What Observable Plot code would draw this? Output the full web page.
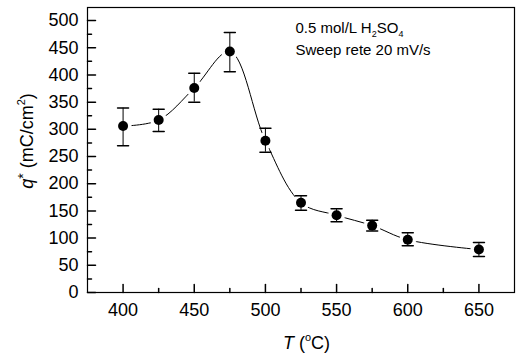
<!DOCTYPE html>
<html>
<head>
<meta charset="utf-8">
<script src="https://cdn.jsdelivr.net/npm/d3@7"></script>
<script src="https://cdn.jsdelivr.net/npm/@observablehq/plot@0.6"></script>
<style>
  html, body { margin: 0; padding: 0; background: #fff; }
  svg { font-family: "Liberation Sans", Arial, sans-serif; }
</style>
</head>
<body>
<div id="chart"></div>
<script>
const temps   = [400, 425, 450, 475, 500, 525, 550, 575, 600, 650];
const charge  = [306, 317, 376, 443, 279, 165, 142, 123,  97,  79];
const errLow  = [270, 296, 350, 406, 258, 151, 130, 113,  86,  66];
const errHigh = [339, 337, 403, 478, 302, 178, 154, 133, 110,  92];

const xMajor = [400, 450, 500, 550, 600, 650];
const xMinor = [425, 475, 525, 575, 625];
const yMajor = [0, 50, 100, 150, 200, 250, 300, 350, 400, 450, 500];
const yMinor = [25, 75, 125, 175, 225, 275, 325, 375, 425, 475];
const xDomain = [375, 675];
const yDomain = [0, 524];

const note1 = ["0.5 mol/L H", "2", "SO", "4"];
const note2 = "Sweep rete 20 mV/s";

const data = temps.map((t, i) => ({t, q: charge[i], lo: errLow[i], hi: errHigh[i]}));

const lineShape = {draw(ctx, l) { ctx.moveTo(0, 0); ctx.lineTo(0, -l); }};

const chart = Plot.plot({
  width: 519,
  height: 357,
  marginLeft: 87,
  marginRight: 5,
  marginTop: 7,
  marginBottom: 65,
  style: {fontFamily: "Liberation Sans, Arial, sans-serif", fontSize: "18px", color: "#000", background: "#fff"},
  x: {domain: xDomain},
  y: {domain: yDomain},
  marks: [
    Plot.axisX(xMajor, {tickSize: 0, tickPadding: 11, label: null, fontSize: 18}),
    Plot.axisY(yMajor, {tickSize: 0, tickPadding: 9, label: null, fontSize: 18}),
    Plot.vector(xMajor, {x: d => d, y: yDomain[0], length: 8, rotate: 0, anchor: "start", shape: lineShape, stroke: "#000"}),
    Plot.vector(xMinor, {x: d => d, y: yDomain[0], length: 4, rotate: 0, anchor: "start", shape: lineShape, stroke: "#000"}),
    Plot.vector(yMajor, {x: xDomain[0], y: d => d, length: 8, rotate: 90, anchor: "start", shape: lineShape, stroke: "#000"}),
    Plot.vector(yMinor, {x: xDomain[0], y: d => d, length: 4, rotate: 90, anchor: "start", shape: lineShape, stroke: "#000"}),
    Plot.line(data, {x: "t", y: "q", curve: "catmull-rom", stroke: "#000", strokeWidth: 1}),
    Plot.dot(data, {x: "t", y: "q", r: 8.5, fill: "#fff", stroke: null}),
    Plot.ruleX(data, {x: "t", y1: "lo", y2: "hi", stroke: "#000", strokeWidth: 1}),
    Plot.vector(data, {x: "t", y: "lo", length: 11, rotate: 90, anchor: "middle", shape: lineShape, stroke: "#000"}),
    Plot.vector(data, {x: "t", y: "hi", length: 11, rotate: 90, anchor: "middle", shape: lineShape, stroke: "#000"}),
    Plot.dot(data, {x: "t", y: "q", r: 5, fill: "#000", stroke: null}),
    Plot.frame({stroke: "#000", strokeWidth: 1.2})
  ]
});

document.getElementById("chart").appendChild(chart);

const svg = d3.select(chart);
const sx = chart.scale("x");
const font = "Liberation Sans, Arial, sans-serif";

// annotation
const ax = sx.apply(521.5);
const t1 = svg.append("text").attr("x", ax).attr("y", 33).attr("text-anchor", "start")
  .attr("font-size", 15).attr("font-family", font).attr("fill", "#000");
t1.append("tspan").text(note1[0]);
t1.append("tspan").attr("font-size", 9).attr("dy", 4).text(note1[1]);
t1.append("tspan").attr("dy", -4).text(note1[2]);
t1.append("tspan").attr("font-size", 9).attr("dy", 4).text(note1[3]);
svg.append("text").attr("x", ax).attr("y", 55).attr("text-anchor", "start")
  .attr("font-size", 15).attr("font-family", font).attr("fill", "#000").text(note2);

// x label
const xc = (sx.range[0] + sx.range[1]) / 2 + 6;
const xl = svg.append("text").attr("x", xc).attr("y", 349).attr("text-anchor", "middle")
  .attr("font-size", 18).attr("font-family", font).attr("fill", "#000");
xl.append("tspan").attr("font-style", "italic").text("T");
xl.append("tspan").text(" (");
xl.append("tspan").attr("font-size", 11).attr("dy", -8).text("o");
xl.append("tspan").attr("dy", 8).text("C)");

// y label
const yc = 141;
const yl = svg.append("text").attr("transform", `translate(33,${yc}) rotate(-90)`).attr("text-anchor", "middle")
  .attr("font-size", 18).attr("font-family", font).attr("fill", "#000");
yl.append("tspan").attr("font-style", "italic").text("q");
yl.append("tspan").attr("font-size", 14).attr("dy", -5).text("*");
yl.append("tspan").attr("dy", 5).text(" (mC/cm");
yl.append("tspan").attr("font-size", 11).attr("dy", -8).text("2");
yl.append("tspan").attr("dy", 8).text(")");
</script>
</body>
</html>
